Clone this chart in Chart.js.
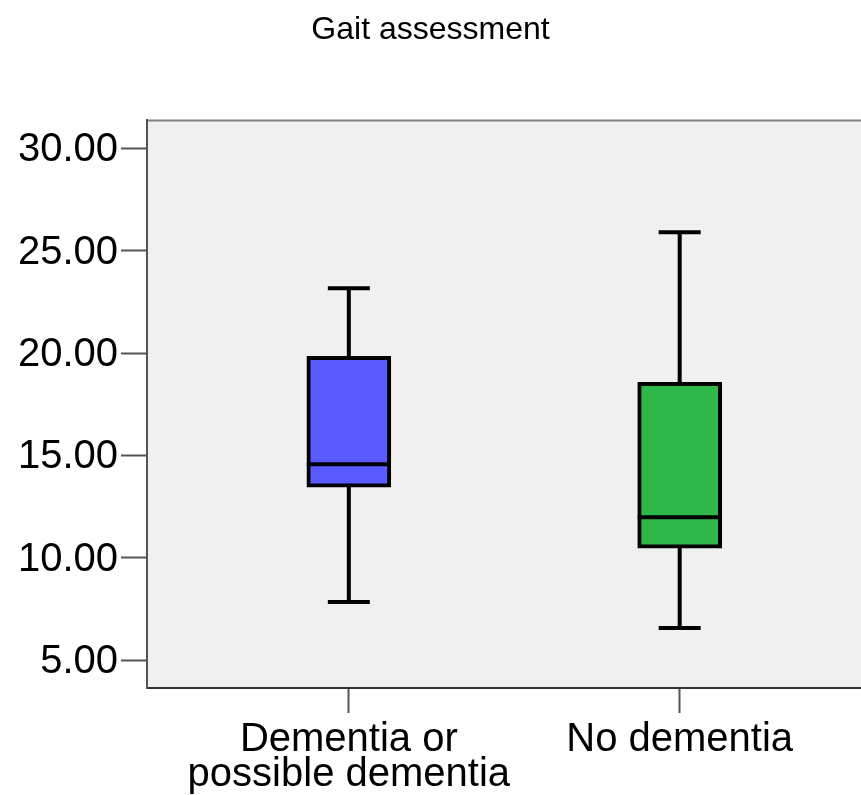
<!DOCTYPE html>
<html>
<head>
<meta charset="utf-8">
<script src="https://cdn.jsdelivr.net/npm/chart.js@4"></script>
<style>
  html, body { margin: 0; padding: 0; background: #fff; }
  #wrap { width: 861px; height: 795px; }
</style>
</head>
<body>
<div id="wrap"><canvas id="BoxChart"></canvas></div>
<script>
// data
const groups = [['Dementia or', 'possible dementia'], 'No dementia'];
const positions = [1, 2];
const whiskerLow = [7.83, 6.56];
const q1 = [13.45, 10.47];
const median = [14.57, 11.98];
const q3 = [19.84, 18.57];
const whiskerHigh = [23.16, 25.9];
const boxColors = ['#5a5aff', '#2fb84a'];
const yTicks = [5, 10, 15, 20, 25, 30];

const FONT = '"Liberation Sans", Arial, sans-serif';

// plot background + top border
const plotFrame = {
    id: 'plotFrame',
    beforeDraw(chart) {
        const {ctx, chartArea: a} = chart;
        ctx.save();
        ctx.fillStyle = '#f0f0f0';
        ctx.fillRect(a.left, a.top, a.right - a.left, a.bottom - a.top);
        ctx.strokeStyle = '#808080';
        ctx.lineWidth = 2;
        ctx.beginPath();
        ctx.moveTo(a.left, a.top);
        ctx.lineTo(a.right, a.top);
        ctx.stroke();
        ctx.restore();
    }
};

// whiskers under the boxes, medians on top
const whiskers = {
    id: 'whiskers',
    beforeDatasetsDraw(chart) {
        const {ctx, scales: {x, y}} = chart;
        ctx.save();
        ctx.strokeStyle = '#000';
        ctx.lineWidth = 4;
        positions.forEach((p, i) => {
            const cx = x.getPixelForValue(p);
            const capHalf = 21;
            ctx.beginPath();
            ctx.moveTo(cx, y.getPixelForValue(q3[i]));
            ctx.lineTo(cx, y.getPixelForValue(whiskerHigh[i]));
            ctx.moveTo(cx, y.getPixelForValue(q1[i]));
            ctx.lineTo(cx, y.getPixelForValue(whiskerLow[i]));
            ctx.moveTo(cx - capHalf, y.getPixelForValue(whiskerHigh[i]));
            ctx.lineTo(cx + capHalf, y.getPixelForValue(whiskerHigh[i]));
            ctx.moveTo(cx - capHalf, y.getPixelForValue(whiskerLow[i]));
            ctx.lineTo(cx + capHalf, y.getPixelForValue(whiskerLow[i]));
            ctx.stroke();
        });
        ctx.restore();
    },
    afterDatasetsDraw(chart) {
        const {ctx, scales: {x, y}} = chart;
        const meta = chart.getDatasetMeta(0);
        ctx.save();
        ctx.strokeStyle = '#000';
        ctx.lineWidth = 4;
        positions.forEach((p, i) => {
            const bar = meta.data[i];
            const half = bar.width / 2;
            const cx = x.getPixelForValue(p);
            const my = y.getPixelForValue(median[i]);
            ctx.beginPath();
            ctx.moveTo(cx - half, my);
            ctx.lineTo(cx + half, my);
            ctx.stroke();
        });
        ctx.restore();
    }
};

const ctl = document.getElementById('BoxChart');
new Chart(ctl, {
    type: 'bar',
    data: {
        datasets: [{
            data: positions.map((p, i) => ({x: p, y: [q1[i], q3[i]]})),
            backgroundColor: boxColors,
            borderColor: '#000',
            borderWidth: 4,
            borderSkipped: false,
            barThickness: 84
        }]
    },
    options: {
        responsive: true,
        maintainAspectRatio: false,
        animation: false,
        layout: { padding: 0 },
        plugins: {
            legend: { display: false },
            tooltip: { enabled: false },
            title: {
                display: true,
                text: 'Gait assessment',
                color: '#000',
                font: { family: FONT, size: 32, weight: 'normal' },
                padding: { top: 11, bottom: 71 }
            }
        },
        scales: {
            x: {
                type: 'linear',
                offset: false,
                min: 0.39,
                max: 2.548,
                afterBuildTicks: (scale) => { scale.ticks = positions.map(v => ({value: v})); },
                afterFit: (scale) => { scale.height = 107; },
                grid: { display: true, offset: false, drawOnChartArea: false, drawTicks: true,
                        tickLength: 25, tickColor: '#555', tickWidth: 2 },
                border: { display: true, color: '#333', width: 2 },
                ticks: {
                    padding: 9,
                    color: '#000',
                    maxRotation: 0,
                    autoSkip: false,
                    font: { family: FONT, size: 40, lineHeight: 0.875 },
                    callback: (v, i) => groups[i]
                }
            },
            y: {
                min: 3.633,
                max: 31.367,
                afterBuildTicks: (scale) => { scale.ticks = yTicks.map(v => ({value: v})); },
                afterFit: (scale) => { scale.width = 147; },
                grid: { display: true, drawOnChartArea: false, drawTicks: true,
                        tickLength: 26, tickColor: '#555', tickWidth: 2 },
                border: { display: true, color: '#555', width: 2 },
                ticks: {
                    padding: 3,
                    labelOffset: 2,
                    color: '#000',
                    font: { family: FONT, size: 40 },
                    callback: (v) => Number(v).toFixed(2)
                }
            }
        }
    },
    plugins: [plotFrame, whiskers]
});
</script>
</body>
</html>
